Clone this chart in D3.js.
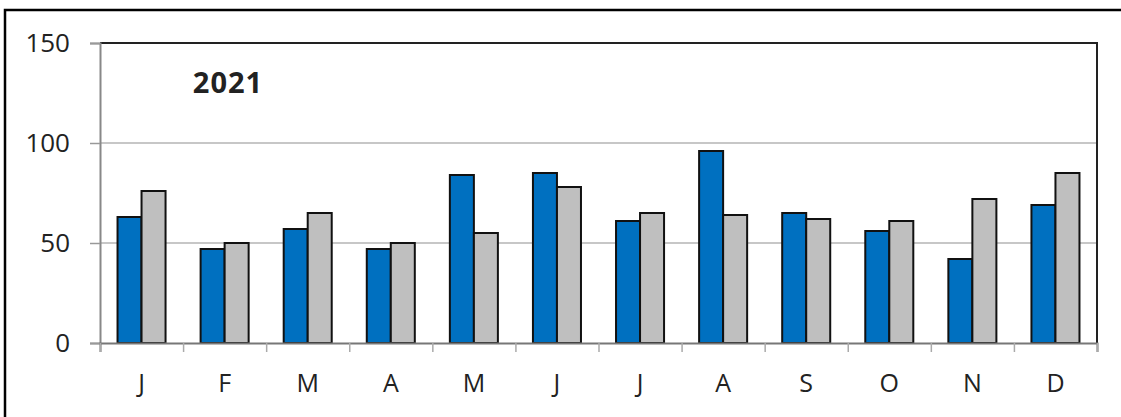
<!DOCTYPE html>
<html>
<head>
<meta charset="utf-8">
<script src="https://cdn.jsdelivr.net/npm/d3@7"></script>
<style>
  body { margin: 0; background: #fff; overflow: hidden; }
  svg { display: block; }
  text { font-family: "Open Sans", "Liberation Sans", sans-serif; fill: #222; }
</style>
</head>
<body>
<svg id="svg" width="1121" height="417"></svg>
<script>
// data
const months = ["J", "F", "M", "A", "M", "J", "J", "A", "S", "O", "N", "D"];
const seriesBlue = [63, 47, 57, 47, 84, 85, 61, 96, 65, 56, 42, 69];
const seriesGray = [76, 50, 65, 50, 55, 78, 65, 64, 62, 61, 72, 85];
const yTicks = [0, 50, 100, 150];
const title = "2021";

let container = d3.select("#svg");
const pLeft = 100, pRight = 1097, pTop = 43, pBottom = 343;

// outer frame (only top and left edges fall inside the picture)
container
  .append("path")
  .attr("d", "M5,417V10H1121")
  .attr("fill", "none")
  .attr("stroke", "#000")
  .attr("stroke-width", 2.5);

let yScale = d3.scaleLinear().domain([0, 150]).range([pBottom, pTop]);
let xScale = d3
  .scaleBand()
  .domain(d3.range(months.length))
  .range([pLeft, pRight]);
let inner = d3
  .scaleBand()
  .domain(["blue", "gray"])
  .range([0, xScale.bandwidth()])
  .paddingInner(0)
  .paddingOuter(0.73);

// gridlines
container
  .selectAll(".grid")
  .data(yTicks.filter((d) => d > 0 && d < 150))
  .enter()
  .append("line")
  .attr("x1", pLeft)
  .attr("x2", pRight)
  .attr("y1", (d) => yScale(d))
  .attr("y2", (d) => yScale(d))
  .attr("stroke", "#b4b4b4")
  .attr("stroke-width", 1.5);

// plot frame top/right
container
  .append("path")
  .attr("d", `M${pLeft},${pTop}H${pRight}V${pBottom}`)
  .attr("fill", "none")
  .attr("stroke", "#222")
  .attr("stroke-width", 2);

// bars
let groups = container
  .selectAll(".month")
  .data(months.map((m, i) => ({ i, blue: seriesBlue[i], gray: seriesGray[i] })))
  .enter()
  .append("g")
  .attr("transform", (d) => "translate(" + xScale(d.i) + ",0)");

[["blue", "#0070c0"], ["gray", "#bfbfbf"]].forEach(([key, color]) => {
  groups
    .append("rect")
    .attr("x", inner(key))
    .attr("width", inner.bandwidth())
    .attr("y", (d) => yScale(d[key]))
    .attr("height", (d) => pBottom - yScale(d[key]))
    .attr("fill", color)
    .attr("stroke", "#111")
    .attr("stroke-width", 2);
});

// y axis
let yAxis = container
  .append("g")
  .attr("transform", "translate(" + pLeft + ",0)")
  .call(d3.axisLeft(yScale).tickValues(yTicks).tickSize(10).tickPadding(20));
yAxis.select(".domain").attr("stroke", "#888").attr("stroke-width", 2);
yAxis.selectAll(".tick line").attr("stroke", "#999").attr("stroke-width", 1.5);
yAxis
  .selectAll(".tick text")
  .attr("font-size", 26)
  .attr("font-family", null)
  .attr("fill", "#222");

// x axis: ticks on band boundaries
let xb = d3
  .scaleLinear()
  .domain([0, months.length])
  .range([pLeft, pRight]);
let xAxis = container
  .append("g")
  .attr("transform", "translate(0," + pBottom + ")")
  .call(d3.axisBottom(xb).ticks(12).tickSize(9).tickFormat(""));
xAxis.select(".domain").attr("stroke", "#777").attr("stroke-width", 2);
xAxis.selectAll(".tick line").attr("stroke", "#aaa").attr("stroke-width", 1.5);

container
  .selectAll(".xlabel")
  .data(months)
  .enter()
  .append("text")
  .attr("x", (d, i) => xScale(i) + xScale.bandwidth() / 2)
  .attr("y", 392)
  .attr("text-anchor", "middle")
  .attr("font-size", 25)
  .text((d) => d);

container
  .append("text")
  .attr("x", 228)
  .attr("y", 93)
  .attr("text-anchor", "middle")
  .attr("font-size", 29)
  .attr("font-weight", "bold")
  .attr("letter-spacing", 1)
  .attr("fill", "#000")
  .text(title);
</script>
</body>
</html>
